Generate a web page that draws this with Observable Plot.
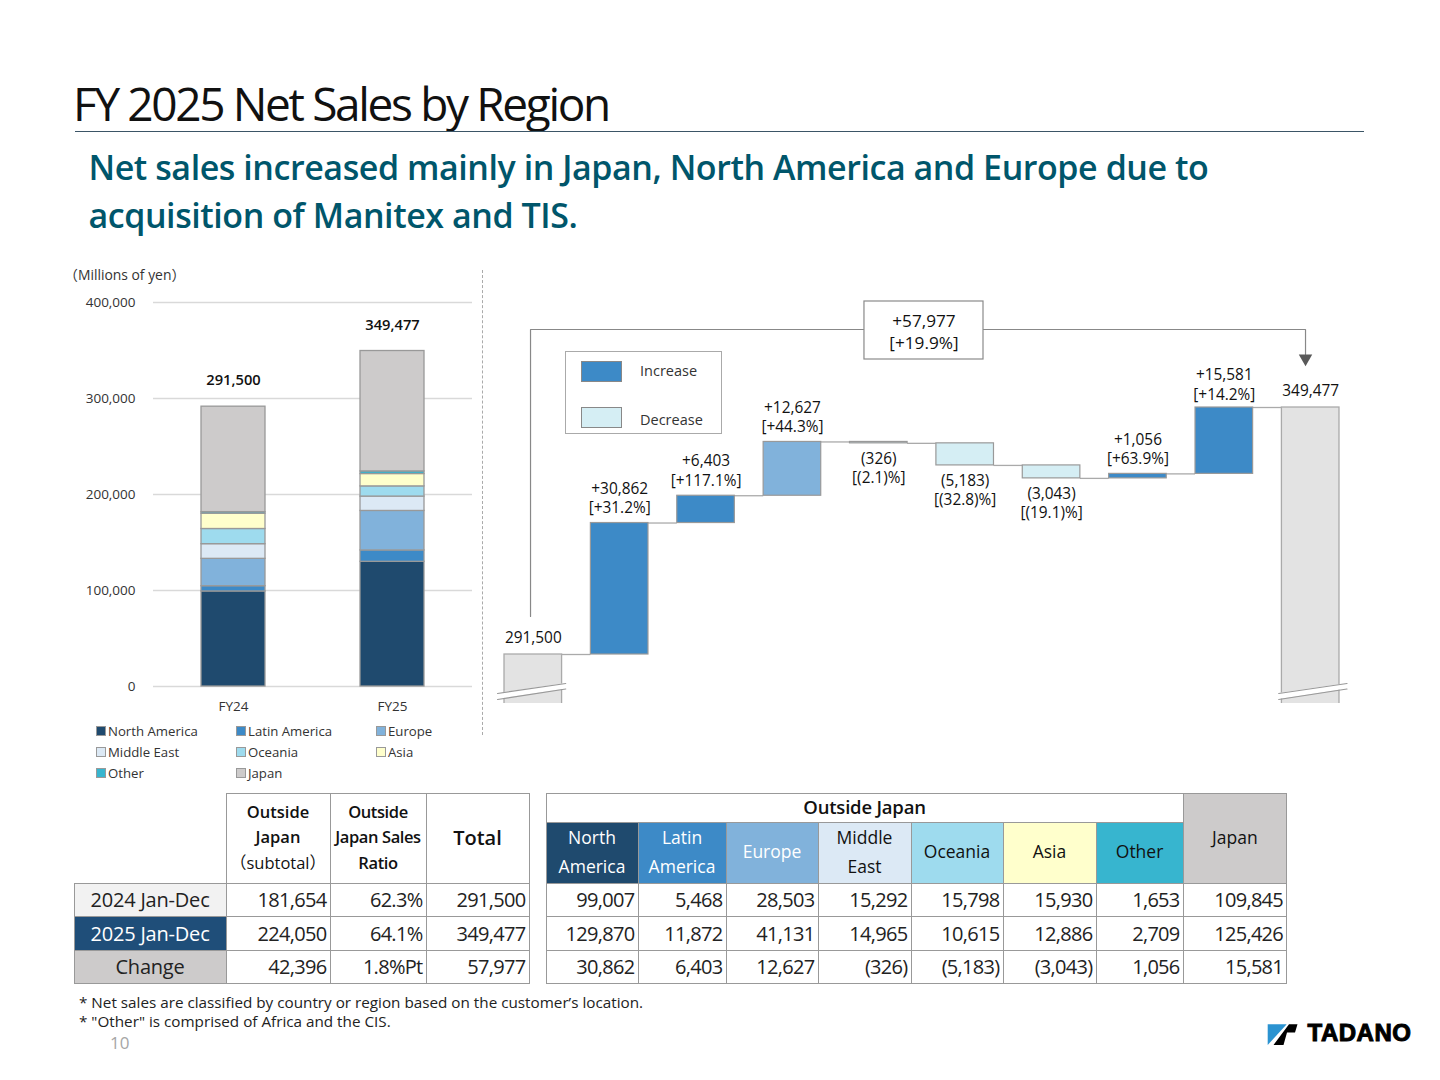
<!DOCTYPE html>
<html><head><meta charset="utf-8">
<script src="https://cdn.jsdelivr.net/npm/d3@7"></script>
<script src="https://cdn.jsdelivr.net/npm/@observablehq/plot@0.6"></script>
<style>
html,body{margin:0;padding:0;background:#fff}
#page{position:relative;width:1440px;height:1080px;overflow:hidden;font-family:"Open Sans","Noto Sans CJK JP",sans-serif;color:#111}
.abs{position:absolute;white-space:nowrap}
table{position:absolute;border-collapse:collapse;table-layout:fixed}
td{border:1.5px solid #999;padding:0;text-align:center;font-size:18px;line-height:25px;overflow:hidden}
td.n{text-align:right;padding-right:3px;font-size:20px;letter-spacing:-.7px;color:#222}
td.rh{font-size:20px;letter-spacing:-.2px;color:#222}
td.h{padding-bottom:2px}
td.blank{border:none}
svg{position:absolute}
</style></head><body><div id="page"></div>
<script>
const regions=["North America","Latin America","Europe","Middle East","Oceania","Asia","Other","Japan"];
const regionColors=["#1f4a6e","#3d8ac7","#81b2db","#dce9f5","#9edbee","#ffffcc","#37b5cf","#cdcbcb"];
const years=["FY24","FY25"];
const fy24=[99007,5468,28503,15292,15798,15930,1653,109845];
const fy25=[129870,11872,41131,14965,10615,12886,2709,125426];
const totals=[291500,349477];
const yTicks=[0,100000,200000,300000,400000];
const changes=[30862,6403,12627,-326,-5183,-3043,1056,15581];
const pctLabels=["[+31.2%]","[+117.1%]","[+44.3%]","[(2.1)%]","[(32.8)%]","[(19.1)%]","[+63.9%]","[+14.2%]"];
const rowHeads=["2024 Jan-Dec","2025 Jan-Dec","Change"];
const subOutside=["181,654","224,050","42,396"];
const subRatio=["62.3%","64.1%","1.8%Pt"];
const subTotal=["291,500","349,477","57,977"];
const footnotes=["* Net sales are classified by country or region based on the customer’s location.","* \"Other\" is comprised of Africa and the CIS."];

const page=document.getElementById("page");
const fmt=d3.format(",");
const fmtCh=v=>v<0?`(${fmt(-v)})`:fmt(v);
const FONT='"Open Sans","Noto Sans CJK JP",sans-serif';
function addDiv(css,html){const d=document.createElement("div");d.className="abs";d.style.cssText=css;d.innerHTML=html;page.appendChild(d);return d;}
function place(el,l,t){el.style.left=l+"px";el.style.top=t+"px";el.style.position="absolute";page.appendChild(el);}

// Header
addDiv("left:73px;top:72px;font-size:46px;line-height:62px;letter-spacing:-2.35px;color:#111","FY 2025 Net Sales by Region");
addDiv("left:75px;top:131px;width:1289px;height:1px;background:#3b5566","");
addDiv("left:88.5px;top:143px;font-size:34px;line-height:48px;font-weight:600;letter-spacing:-.44px;color:#00566b;white-space:normal;width:1200px","Net sales increased mainly in Japan, North America and Europe due to<br>acquisition of Manitex and TIS.");

// Stacked chart
addDiv("left:64px;top:266px;font-size:13.9px;line-height:18px;color:#333","（Millions of yen）");
addDiv("left:482px;top:270px;height:465px;border-left:1px dashed #aaa","");
const stackRows=years.flatMap((y,yi)=>regions.map((r,i)=>({year:y,region:r,value:(yi?fy25:fy24)[i]})));
const totalRows=years.map((y,i)=>({year:y,total:totals[i]}));
const stacked=Plot.plot({
  width:430,height:430,marginLeft:93,marginRight:18,marginTop:12,marginBottom:34,
  style:{fontFamily:FONT,fontSize:"13.5px",color:"#333",background:"transparent"},
  x:{domain:years,paddingInner:0.6,paddingOuter:0.3,label:null,tickSize:0,tickPadding:15},
  y:{domain:[0,400000],ticks:yTicks,label:null,tickSize:0,tickPadding:18,tickFormat:fmt},
  color:{domain:regions,range:regionColors},
  marks:[
    Plot.ruleY(yTicks,{stroke:"#d9d9d9",strokeWidth:1.3}),
    Plot.barY(stackRows,{x:"year",y:"value",fill:"region",stroke:"#999",strokeWidth:1.3}),
    Plot.text(totalRows,{x:"year",y:"total",text:d=>fmt(d.total),dy:-26,fontSize:14.7,fontWeight:600,fill:"#111"})
  ]
});
place(stacked,60,290);

// Stacked legend
const legendCols=[96,236,376],legendRows=[731,752,773];
regions.forEach((r,i)=>{
  const x=legendCols[i%3],y=legendRows[Math.floor(i/3)];
  addDiv(`left:${x}px;top:${y-5}px;width:8px;height:8px;background:${regionColors[i]};border:1px solid #999`,"");
  addDiv(`left:${x+12}px;top:${y-10}px;font-size:13.2px;line-height:20px;color:#333`,r);
});

// Waterfall
const SW=["#3d8ac7","#3d8ac7","#81b2db","#d5eef4","#d5eef4","#d5eef4","#3d8ac7","#3d8ac7"];
const BASE=280000, TOP=376941;
const levels=[totals[0]];changes.forEach(c=>levels.push(levels[levels.length-1]+c));
const HALF=1/3;
const steps=changes.map((c,i)=>({i:i+1,y1:levels[i],y2:levels[i+1],fill:SW[i],up:c>=0,
  label:(c>=0?"+"+fmt(c):`(${fmt(-c)})`)+"\n"+pctLabels[i]}));
const ends=[{i:0,v:totals[0]},{i:9,v:totals[1]}];
const connectors=levels.map((v,i)=>({x1:i+HALF,x2:i+1-HALF,y:v}));
const breaks=[-0.414,8.63].flatMap((x0,k)=>[
  {k,x:x0,a:282347,b:280939},{k,x:x0+0.79,a:284695,b:283404}]);
const bracket=[{x:-0.032,y:300421},{x:-0.032,y:367787},{x:8.94,y:367787},{x:8.94,y:361900}];
const box={x1:3.834,x2:5.212,y1:360745,y2:374359,xm:4.523,ym:367552,label:"+57,977\n[+19.9%]"};
const wf=Plot.plot({
  width:860,height:420,marginLeft:0,marginRight:0,marginTop:0,marginBottom:7,
  style:{fontFamily:FONT,fontSize:"15px",color:"#111",background:"transparent"},
  x:{domain:[-0.4954,9.4607],axis:null},
  y:{domain:[BASE,TOP],axis:null},
  marks:[
    Plot.line(bracket,{x:"x",y:"y",stroke:"#888",strokeWidth:1.2}),
    Plot.dot([{x:8.94,y:359103}],{x:"x",y:"y",symbol:"triangle",rotate:180,r:5,fill:"#595959",stroke:"none",dy:-8}),
    Plot.rect([box],{x1:"x1",x2:"x2",y1:"y1",y2:"y2",fill:"#fff",stroke:"#8a8a8a",strokeWidth:1.2}),
    Plot.text([box],{x:"xm",y:"ym",text:"label",fontSize:17.2,lineHeight:1.28,fill:"#111"}),
    Plot.ruleY(connectors,{x1:"x1",x2:"x2",y:"y",stroke:"#aaa",strokeWidth:1.3}),
    Plot.rect(ends,{x1:d=>d.i-HALF,x2:d=>d.i+HALF,y1:BASE-3000,y2:"v",fill:"#e3e3e3",stroke:"#aaa",strokeWidth:1.3,clip:true}),
    Plot.rect(steps,{x1:d=>d.i-HALF,x2:d=>d.i+HALF,y1:"y1",y2:"y2",fill:"fill",stroke:"#999",strokeWidth:1.2}),
    Plot.areaY(breaks,{x:"x",y1:"a",y2:"b",z:"k",fill:"#fff"}),
    Plot.line(breaks,{x:"x",y:"a",z:"k",stroke:"#999",strokeWidth:1.2}),
    Plot.line(breaks,{x:"x",y:"b",z:"k",stroke:"#999",strokeWidth:1.2}),
    Plot.text(steps.filter(d=>d.up&&d.i<8),{x:"i",y:"y2",text:"label",lineAnchor:"bottom",dy:-10,fontSize:15.4,lineHeight:1.25}),
    Plot.text(steps.filter(d=>d.i===8),{x:"i",y:"y2",text:"label",lineAnchor:"bottom",dy:-8,fontSize:15.4,lineHeight:1.25}),
    Plot.text(steps.filter(d=>!d.up),{x:"i",y:"y2",text:"label",lineAnchor:"top",dy:7,fontSize:15.4,lineHeight:1.25}),
    Plot.text(ends,{x:"i",y:"v",text:d=>fmt(d.v),dy:-16,fontSize:15.4})
  ]
});
place(wf,490,290);

// Waterfall legend
addDiv("left:565px;top:351px;width:155px;height:81px;border:1.2px solid #aaa;background:#fff","");
addDiv("left:581px;top:361px;width:39px;height:19px;background:#3d8ac7;border:1px solid #888","");
addDiv("left:581px;top:407px;width:39px;height:19px;background:#d5eef4;border:1px solid #888","");
addDiv("left:640px;top:361px;font-size:14.5px;line-height:20px;color:#333","Increase");
addDiv("left:640px;top:410px;font-size:14.5px;line-height:20px;color:#333","Decrease");

// Left table
const rowFills=[["#f2f2f2","#222"],["#1f4e79","#fff"],["#cdcbcb","#222"]];
const leftHTML=`<colgroup><col style="width:152px"><col style="width:104px"><col style="width:96px"><col style="width:103px"></colgroup>
<tr style="height:90px"><td class="blank"></td>
<td class="h" style="font-size:16.5px;line-height:25.5px;font-weight:600">Outside<br>Japan<br><span style="font-weight:400">（subtotal）</span></td>
<td class="h" style="font-size:16.5px;line-height:25.5px;font-weight:600;letter-spacing:-.4px">Outside<br>Japan Sales<br>Ratio</td>
<td class="h" style="font-size:20px;font-weight:600">Total</td></tr>`+
rowHeads.map((h,i)=>`<tr style="height:33.5px"><td class="rh" style="background:${rowFills[i][0]};color:${rowFills[i][1]}">${h}</td>
<td class="n">${subOutside[i]}</td><td class="n">${subRatio[i]}</td><td class="n">${subTotal[i]}</td></tr>`).join("");
const lt=document.createElement("table");lt.innerHTML=leftHTML;lt.style.cssText="left:73.5px;top:792.5px;width:455px";page.appendChild(lt);

// Right table
const headLabels=["North<br>America","Latin<br>America","Europe","Middle<br>East","Oceania","Asia","Other"];
const headText=["#fff","#fff","#fff","#111","#111","#111","#111"];
const colW=[92,88,92,93,92,93,87,103.5];
const rowsData=[fy24.map(fmt),fy25.map(fmt),changes.map(fmtCh)];
const rightHTML=`<colgroup>${colW.map(w=>`<col style="width:${w}px">`).join("")}</colgroup>
<tr style="height:29px"><td class="h" colspan="7" style="font-size:18.5px;font-weight:600;letter-spacing:-.2px">Outside Japan</td>
<td class="h" rowspan="2" style="background:${regionColors[7]};font-size:17.5px;border-bottom:1.5px solid #999">Japan</td></tr>
<tr style="height:61px">${headLabels.map((h,i)=>`<td class="h" style="background:${regionColors[i]};color:${headText[i]};font-size:17.5px;line-height:29px">${h}</td>`).join("")}</tr>`+
rowsData.map(r=>`<tr style="height:33.5px">${r.map(v=>`<td class="n">${v}</td>`).join("")}</tr>`).join("");
const rt=document.createElement("table");rt.innerHTML=rightHTML;rt.style.cssText="left:545.5px;top:792.5px;width:740.5px";page.appendChild(rt);

// Footnotes, page number, logo
footnotes.forEach((f,i)=>addDiv(`left:79px;top:${992+i*19}px;font-size:15.25px;line-height:20px;color:#222`,f.replace(/"/g,"&quot;")));
addDiv("left:110px;top:1031px;font-size:17px;line-height:24px;color:#a6a6a6","10");
addDiv("left:1267px;top:1023px;width:32px;height:23px",`<svg width="32" height="23" viewBox="0 0 32 23" style="position:static;display:block"><polygon points="0.7,1.2 19.7,1.2 0.7,22" fill="#2b93d1"/><polygon points="22,1.2 30.5,1.2 28,9.5 20,9.5 16.5,22 6.5,22" fill="#000"/></svg>`);
addDiv("left:1307.5px;top:1018px;font-family:'Liberation Sans',sans-serif;font-weight:700;font-size:24px;line-height:30px;letter-spacing:.5px;color:#000;-webkit-text-stroke:1px #000","TADANO");
</script></body></html>
